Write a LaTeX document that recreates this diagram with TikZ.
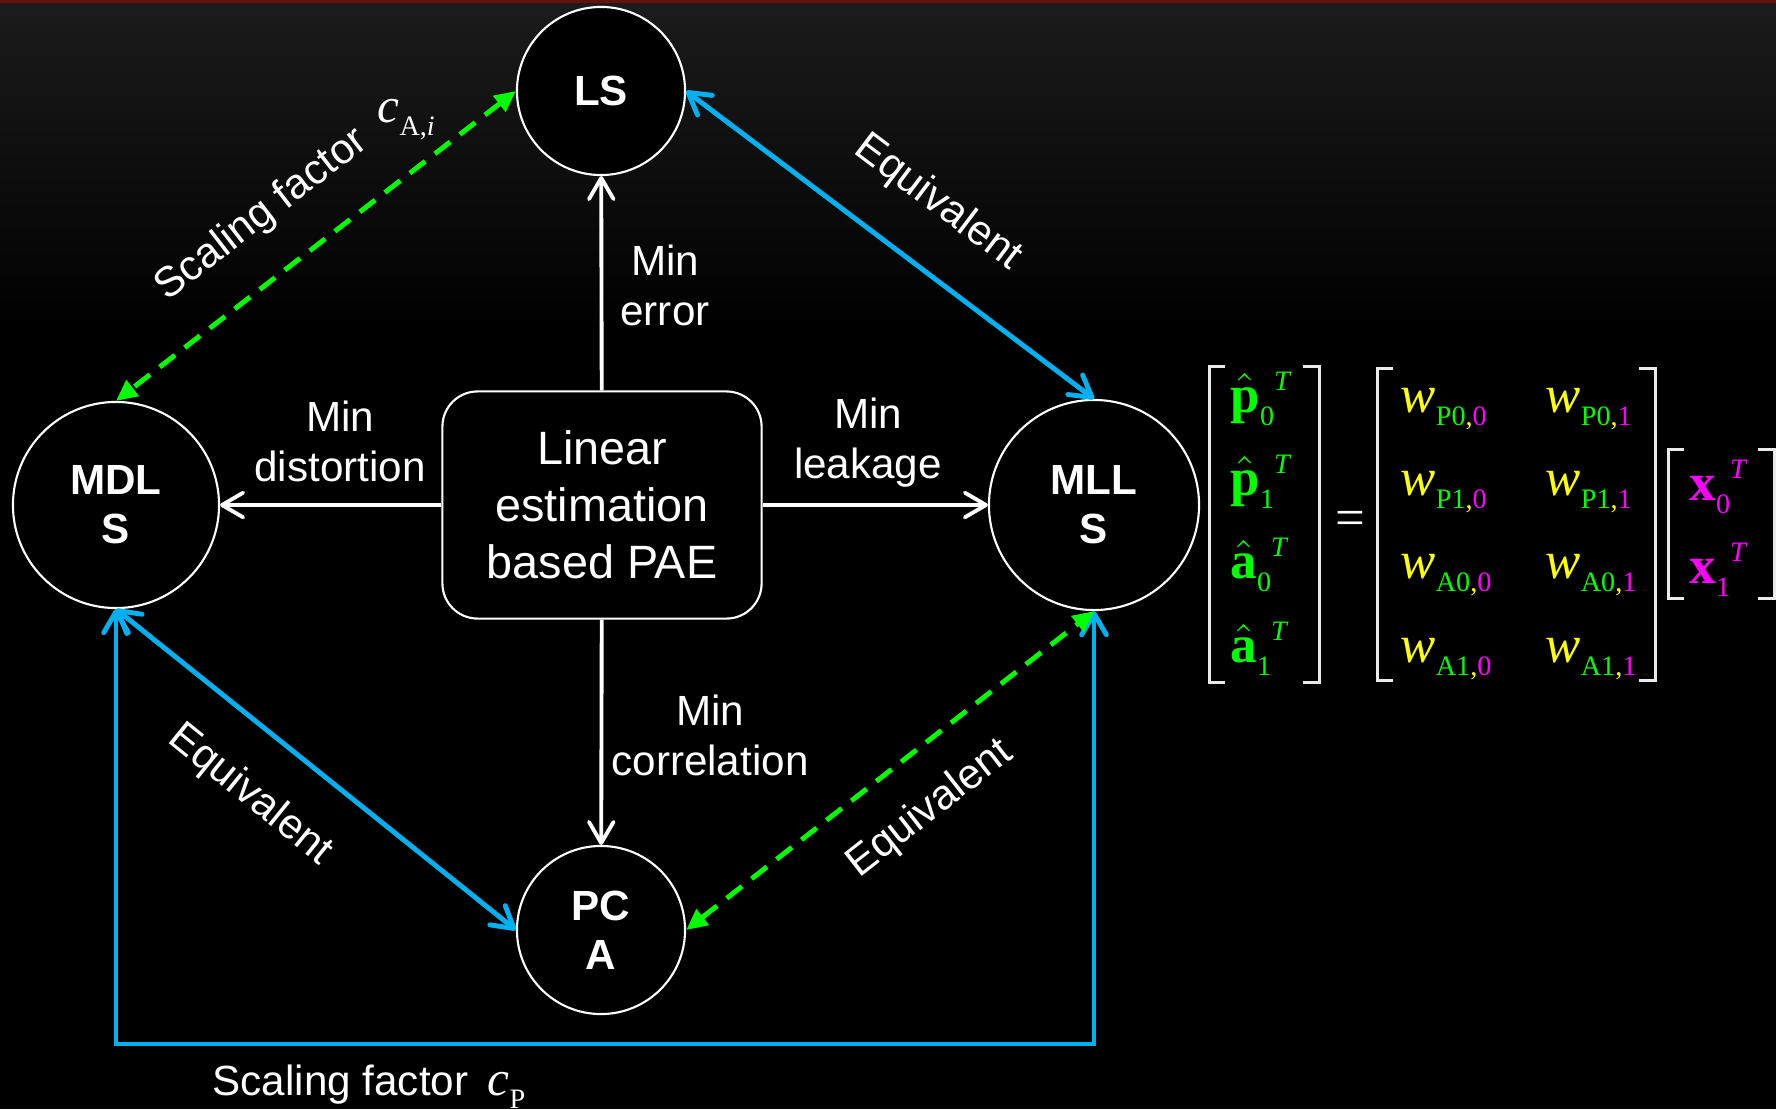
\documentclass[tikz,border=0pt]{standalone}
\usepackage{amsmath}
\usepackage{fontspec}
\setmainfont{Liberation Sans}
\newfontfamily\tms{Liberation Serif}
\usetikzlibrary{arrows.meta,positioning}
\definecolor{eqblue}{HTML}{00B0F0}
\definecolor{sclgreen}{HTML}{00FF00}
\definecolor{wyel}{HTML}{FFFF00}
\definecolor{xmag}{HTML}{FF00FF}
\definecolor{topred}{HTML}{6B0E0E}
\definecolor{topgray}{HTML}{1B1B1B}
% entries of the matrix equation
\newcommand{\lowsub}[1]{\raisebox{-3.8pt}{\fontsize{8}{8}\selectfont\tms #1}}
\newcommand{\supT}{\raisebox{6pt}{\fontsize{8}{8}\selectfont\tms\itshape T}}
\newcommand{\est}[2]{$\hat{\text{\tms\bfseries #1}}$\lowsub{#2}\supT}
\newcommand{\wgt}[2]{{\tms\itshape w}\lowsub{\color{sclgreen}#1\color{wyel},\color{xmag}#2}}
\newcommand{\inp}[1]{{\tms\bfseries x}\lowsub{#1}\supT}
\newcommand{\brk}[4]{%
\draw[brack] (#1+16,#3) -| (#1,#4) -- (#1+16,#4);
\draw[brack] (#2-16,#3) -| (#2,#4) -- (#2-16,#4);}

\begin{document}
\begin{tikzpicture}[x=0.01cm,y=-0.01cm,
>={Straight Barb[length=6pt,width=7pt,round]},
algo/.style={circle,draw=white,line width=0.6pt,fill=black,text=white,inner sep=0pt,align=center,font=\bfseries\fontsize{12}{13.9}\selectfont},
pae/.style={rectangle,rounded corners=10pt,draw=white,line width=0.6pt,fill=black,text=white,align=center,minimum width=3.19cm,minimum height=2.27cm,font=\fontsize{13.3}{16.2}\selectfont},
lbl/.style={text=white,align=center,inner sep=0pt,font=\fontsize{12}{14.2}\selectfont},
minarr/.style={->,white,line width=1.1pt},
eqv/.style={<->,eqblue,line width=1.4pt},
scl/.style={{Triangle[length=6pt,width=5.5pt]}-{Triangle[length=6pt,width=5.5pt]},sclgreen,line width=1.4pt,dash pattern=on 5.5pt off 3.5pt},
mtx/.style={anchor=base west,inner sep=0pt,font=\fontsize{15}{17}\selectfont},
brack/.style={white!92!black,line width=0.85pt}]
\useasboundingbox (0,0) rectangle (1776,1109);
% background
\fill[black] (0,0) rectangle (1776,1109);
\shade[top color=topgray,bottom color=black] (0,3) rectangle (1776,330);
\fill[topred] (0,0) rectangle (1776,3);

\node[algo,minimum size=1.68cm] (LS) at (601,91) {LS};
\node[algo,minimum size=2.06cm] (MDLS) at (116,505) {MDL\\S};
\node[algo,minimum size=2.1cm] (MLLS) at (1094,505) {MLL\\S};
\node[algo,minimum size=1.68cm] (PCA) at (601,930) {PC\\A};
\node[pae] (PAE) at (602,505) {Linear\\estimation\\based PAE};

\draw[minarr] (PAE) -- (LS);
\draw[minarr] (PAE) -- (MDLS);
\draw[minarr] (PAE) -- (MLLS);
\draw[minarr] (PAE) -- (PCA);
\node[lbl] (minerr) at (665,285) {Min\\error};
\node[lbl] (mindis) at (340,441) {Min\\distortion};
\node[lbl] (minlk) at (868,443) {Min\\leakage};
\node[lbl] (mincor) at (710,735) {Min\\correlation};

\coordinate (cpb) at (601,1044);
\draw[eqv] (LS.east) -- (MLLS.north);
\draw[eqv] (MDLS.south) -- (PCA.west);
\draw[eqv] (MDLS.south) -- (MDLS.south |- cpb) -| (MLLS.south);
\draw[scl] (LS.west) -- (MDLS.north);
\draw[scl] (PCA.east) -- (MLLS.south);

\node[lbl,rotate=37.7] (sclA) at (262,215) {Scaling factor};
\node[mtx,text=white,font=\fontsize{14}{16}\selectfont] (cA) at (377,122) {{\tms\itshape c}\lowsub{A,\itshape i}};
\node[lbl,rotate=-37] (eqv1) at (938,203) {Equivalent};
\node[lbl,rotate=-39] (eqv2) at (250,795) {Equivalent};
\node[lbl,rotate=38] (eqv3) at (930,809) {Equivalent};
\node[lbl,anchor=base west] (sclP) at (212,1095) {Scaling factor};
\node[mtx,text=white,font=\fontsize{14}{16}\selectfont] (cP) at (487,1095) {{\tms\itshape c}\lowsub{P}};

% matrix equation
\brk{1209}{1319}{366}{682}
\brk{1377}{1655}{368}{680}
\brk{1668}{1774}{449}{598}
\node[mtx,text=sclgreen] (p0) at (1230,412) {\est{p}{0}};
\node[mtx,text=sclgreen] (p1) at (1230,495) {\est{p}{1}};
\node[mtx,text=sclgreen] (a0) at (1230,578) {\est{a}{0}};
\node[mtx,text=sclgreen] (a1) at (1230,662) {\est{a}{1}};
\node[mtx,anchor=center,text=white] (eq) at (1350,523) {\tms =};
\node[mtx,text=wyel] (w00) at (1400,412) {\wgt{P0}{0}};
\node[mtx,text=wyel] (w01) at (1545,412) {\wgt{P0}{1}};
\node[mtx,text=wyel] (w10) at (1400,495) {\wgt{P1}{0}};
\node[mtx,text=wyel] (w11) at (1545,495) {\wgt{P1}{1}};
\node[mtx,text=wyel] (w20) at (1400,578) {\wgt{A0}{0}};
\node[mtx,text=wyel] (w21) at (1545,578) {\wgt{A0}{1}};
\node[mtx,text=wyel] (w30) at (1400,662) {\wgt{A1}{0}};
\node[mtx,text=wyel] (w31) at (1545,662) {\wgt{A1}{1}};
\node[mtx,text=xmag] (x0) at (1689,500) {\inp{0}};
\node[mtx,text=xmag] (x1) at (1689,583) {\inp{1}};
\end{tikzpicture}
\end{document}
